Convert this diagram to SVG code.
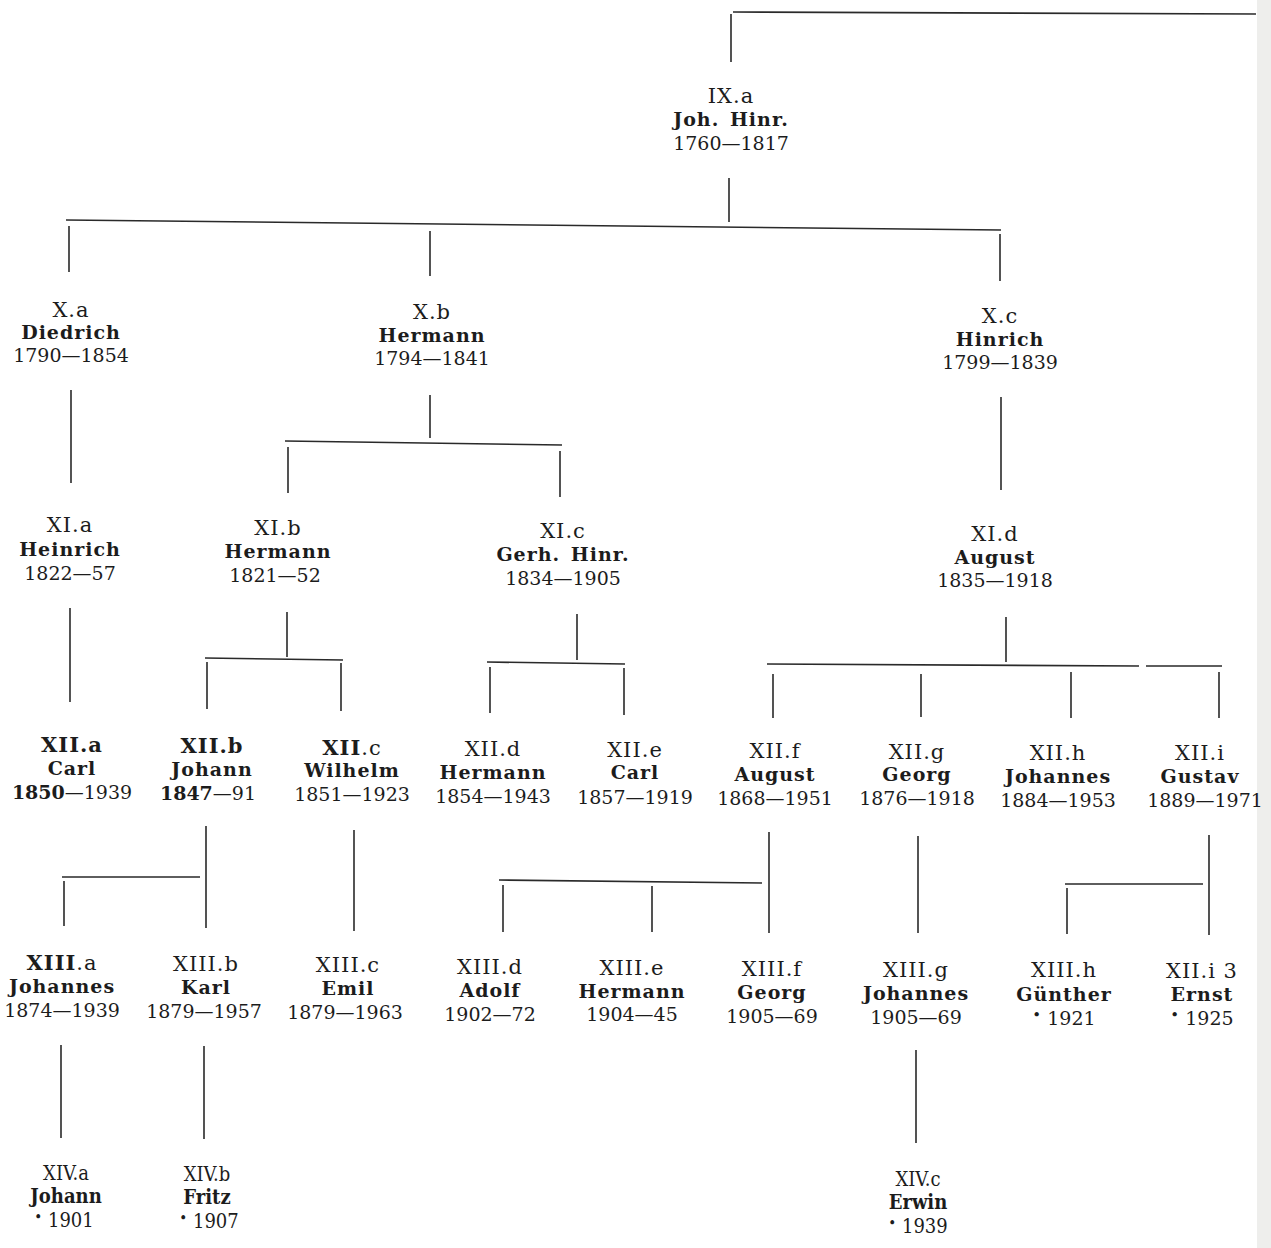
<svg xmlns="http://www.w3.org/2000/svg" width="1271" height="1248" viewBox="0 0 1271 1248">
<style>
.t{font-family:"DejaVu Serif","Liberation Serif",serif;font-size:19px;text-anchor:middle;fill:#1c1c1c}
.l{font-size:21px;letter-spacing:1px}
.b{font-weight:bold;letter-spacing:1px}
.c{font-family:"DejaVu Serif Condensed","DejaVu Serif","Liberation Serif",serif;font-stretch:condensed;font-size:20px;letter-spacing:0}
.dot{font-size:15px}
.ln{stroke:#2a2a2a;stroke-width:1.6;fill:none}
</style>
<rect width="1271" height="1248" fill="#ffffff"/>
<rect x="1257" y="0" width="14" height="1248" fill="#eeeeec"/>
<g id="connectors" class="ln">
<path d="M733 12 L1256 14 M731 14 V62"/>
<path d="M729 178 V222 M66 220 L1001 230 M69 226 V272 M430 231 V276 M1000 234 V281"/>
<path d="M71 390 V483"/>
<path d="M430 395 V438 M285 441 L562 445 M288 447 V493 M560 451 V497"/>
<path d="M1001 397 V490"/>
<path d="M70 608 V702"/>
<path d="M287 612 V657 M205 658 L343 660 M207 662 V709 M341 663 V711"/>
<path d="M577 614 V660 M487 662 L625 664 M490 667 V713 M624 668 V715"/>
<path d="M1006 617 V662 M767 664 L1139 666 M1146 666 L1222 666 M773 674 V718 M921 674 V717 M1071 672 V718 M1219 672 V718"/>
<path d="M206 826 V928 M62 877 L200 877 M64 881 V926"/>
<path d="M354 830 V931"/>
<path d="M769 832 V933 M499 880 L762 883 M503 885 V932 M652 886 V932"/>
<path d="M918 836 V933"/>
<path d="M1209 835 V935 M1065 884 L1203 884 M1067 888 V934"/>
<path d="M61 1045 V1138 M204 1046 V1139 M916 1050 V1143"/>
</g>
<g id="IXa"><text class="t l" x="731" y="103">IX.a</text><text class="t b" x="731" y="126" word-spacing="3">Joh. Hinr.</text><text class="t" x="731" y="150">1760—1817</text></g>
<g id="Xa"><text class="t l" x="71" y="317">X.a</text><text class="t b" x="71" y="339">Diedrich</text><text class="t" x="71" y="362">1790—1854</text></g>
<g id="Xb"><text class="t l" x="432" y="319">X.b</text><text class="t b" x="432" y="342">Hermann</text><text class="t" x="432" y="365">1794—1841</text></g>
<g id="Xc"><text class="t l" x="1000" y="323">X.c</text><text class="t b" x="1000" y="346">Hinrich</text><text class="t" x="1000" y="369">1799—1839</text></g>
<g id="XIa"><text class="t l" x="70" y="532">XI.a</text><text class="t b" x="70" y="556">Heinrich</text><text class="t" x="70" y="580">1822—57</text></g>
<g id="XIb"><text class="t l" x="278" y="535">XI.b</text><text class="t b" x="278" y="558">Hermann</text><text class="t" x="275" y="582">1821—52</text></g>
<g id="XIc"><text class="t l" x="563" y="538">XI.c</text><text class="t b" x="563" y="561" word-spacing="3">Gerh. Hinr.</text><text class="t" x="563" y="585">1834—1905</text></g>
<g id="XId"><text class="t l" x="995" y="541">XI.d</text><text class="t b" x="995" y="564">August</text><text class="t" x="995" y="587">1835—1918</text></g>
<g id="XIIa"><text class="t l b" x="72" y="752">XII.a</text><text class="t b" x="72" y="775">Carl</text><text class="t" x="72" y="799"><tspan font-weight="bold">1850</tspan>—1939</text></g>
<g id="XIIb"><text class="t l b" x="212" y="753">XII.b</text><text class="t b" x="212" y="776">Johann</text><text class="t" x="208" y="800"><tspan font-weight="bold">1847</tspan>—91</text></g>
<g id="XIIc"><text class="t l" x="352" y="755"><tspan font-weight="bold">XII</tspan>.c</text><text class="t b" x="352" y="777">Wilhelm</text><text class="t" x="352" y="801">1851—1923</text></g>
<g id="XIId"><text class="t l" x="493" y="756">XII.d</text><text class="t b" x="493" y="779">Hermann</text><text class="t" x="493" y="803">1854—1943</text></g>
<g id="XIIe"><text class="t l" x="635" y="757">XII.e</text><text class="t b" x="635" y="779">Carl</text><text class="t" x="635" y="804">1857—1919</text></g>
<g id="XIIf"><text class="t l" x="775" y="758">XII.f</text><text class="t b" x="775" y="781">August</text><text class="t" x="775" y="805">1868—1951</text></g>
<g id="XIIg"><text class="t l" x="917" y="759">XII.g</text><text class="t b" x="917" y="781">Georg</text><text class="t" x="917" y="805">1876—1918</text></g>
<g id="XIIh"><text class="t l" x="1058" y="760">XII.h</text><text class="t b" x="1058" y="783">Johannes</text><text class="t" x="1058" y="807">1884—1953</text></g>
<g id="XIIi"><text class="t l" x="1200" y="760">XII.i</text><text class="t b" x="1200" y="783">Gustav</text><text class="t" x="1205" y="807">1889—1971</text></g>
<g id="XIIIa"><text class="t l" x="62" y="970"><tspan font-weight="bold">XIII</tspan>.a</text><text class="t b" x="62" y="993">Johannes</text><text class="t" x="62" y="1017">1874—1939</text></g>
<g id="XIIIb"><text class="t l" x="206" y="971">XIII.b</text><text class="t b" x="206" y="994">Karl</text><text class="t" x="204" y="1018">1879—1957</text></g>
<g id="XIIIc"><text class="t l" x="348" y="972">XIII.c</text><text class="t b" x="348" y="995">Emil</text><text class="t" x="345" y="1019">1879—1963</text></g>
<g id="XIIId"><text class="t l" x="490" y="974">XIII.d</text><text class="t b" x="490" y="997">Adolf</text><text class="t" x="490" y="1021">1902—72</text></g>
<g id="XIIIe"><text class="t l" x="632" y="975">XIII.e</text><text class="t b" x="632" y="998">Hermann</text><text class="t" x="632" y="1021">1904—45</text></g>
<g id="XIIIf"><text class="t l" x="772" y="976">XIII.f</text><text class="t b" x="772" y="999">Georg</text><text class="t" x="772" y="1023">1905—69</text></g>
<g id="XIIIg"><text class="t l" x="916" y="977">XIII.g</text><text class="t b" x="916" y="1000">Johannes</text><text class="t" x="916" y="1024">1905—69</text></g>
<g id="XIIIh"><text class="t l" x="1064" y="977">XIII.h</text><text class="t b" x="1064" y="1001">Günther</text><text class="t" x="1064" y="1025"><tspan class="dot" dy="-5">•</tspan><tspan dy="5"> 1921</tspan></text></g>
<g id="XIIi3"><text class="t l" x="1202" y="978" xml:space="preserve">XII.i 3</text><text class="t b" x="1202" y="1001">Ernst</text><text class="t" x="1202" y="1025"><tspan class="dot" dy="-5">•</tspan><tspan dy="5"> 1925</tspan></text></g>
<g id="XIVa"><text class="t c" x="66" y="1180">XIV.a</text><text class="t c" font-weight="bold" x="66" y="1203">Johann</text><text class="t c" x="64" y="1227"><tspan class="dot" dy="-5">•</tspan><tspan dy="5"> 1901</tspan></text></g>
<g id="XIVb"><text class="t c" x="207" y="1181">XIV.b</text><text class="t c" font-weight="bold" x="207" y="1204">Fritz</text><text class="t c" x="209" y="1228"><tspan class="dot" dy="-5">•</tspan><tspan dy="5"> 1907</tspan></text></g>
<g id="XIVc"><text class="t c" x="918" y="1186">XIV.c</text><text class="t c" font-weight="bold" x="918" y="1209">Erwin</text><text class="t c" x="918" y="1233"><tspan class="dot" dy="-5">•</tspan><tspan dy="5"> 1939</tspan></text></g>
</svg>
